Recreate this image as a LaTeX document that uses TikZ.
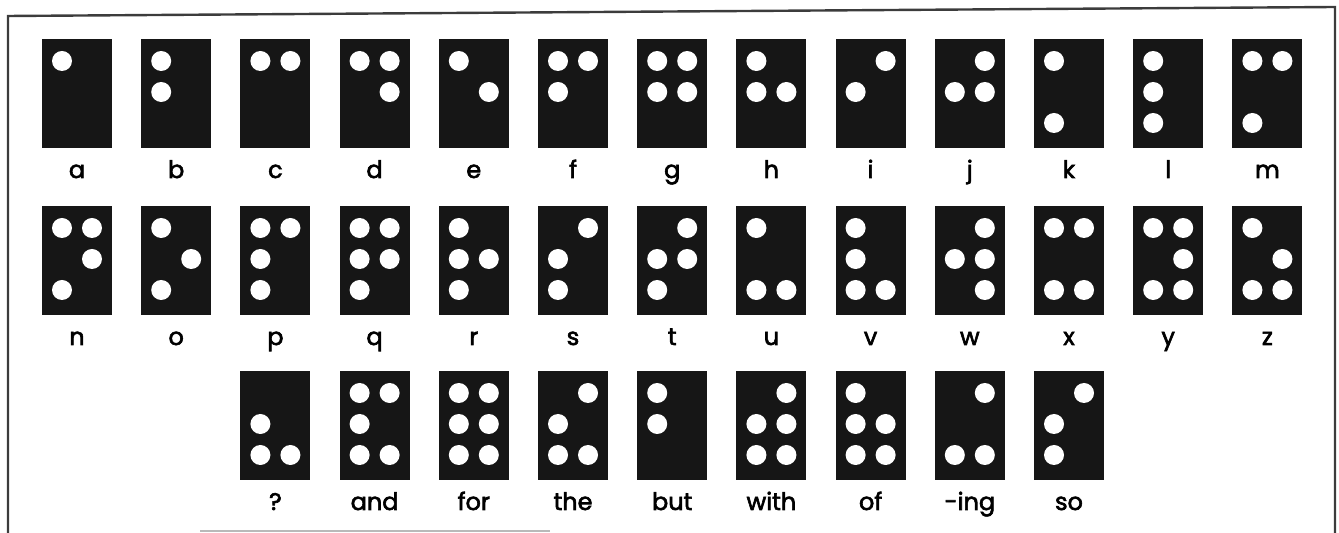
\documentclass[tikz,border=0pt]{standalone}
\usepackage{fontspec}
\setmainfont{Poppins}
\newfontfamily\labelfont{Poppins}[FakeBold=2.5]
\usetikzlibrary{positioning}
\definecolor{cellink}{HTML}{161616}
\definecolor{frameink}{HTML}{3C3C3C}
\tikzset{
  braillecell/.style={rectangle,fill=cellink,draw=none,minimum width=35pt,
    minimum height=54.5pt,inner sep=0pt,outer sep=0pt},
  brailledot/.style={fill=white},
  braillelabel/.style={anchor=base,inner sep=0pt,font=\labelfont\fontsize{12}{14}\selectfont},
  pageframe/.style={draw=frameink,line width=1.2pt},
}

\begin{document}
\begin{tikzpicture}[x=0.5pt,y=-0.5pt]
  \useasboundingbox (0,0) rectangle (1339,533);
  % frame of the scanned page
  \draw[pageframe] (8,533) -- (8,16) -- (1335,7) -- (1335,533);
  \draw[gray!55,line width=0.8pt] (200,531) -- (550,531);
  % cells: column/row/label/raised dots
  \foreach \c/\r/\txt/\pts [count=\n] in {
      0/0/a/{1}, 1/0/b/{1,2}, 2/0/c/{1,4}, 3/0/d/{1,4,5}, 4/0/e/{1,5},
      5/0/f/{1,2,4}, 6/0/g/{1,2,4,5}, 7/0/h/{1,2,5}, 8/0/i/{2,4},
      9/0/j/{2,4,5}, 10/0/k/{1,3}, 11/0/l/{1,2,3}, 12/0/m/{1,3,4},
      0/1/n/{1,3,4,5}, 1/1/o/{1,3,5}, 2/1/p/{1,2,3,4}, 3/1/q/{1,2,3,4,5},
      4/1/r/{1,2,3,5}, 5/1/s/{2,3,4}, 6/1/t/{2,3,4,5}, 7/1/u/{1,3,6},
      8/1/v/{1,2,3,6}, 9/1/w/{2,4,5,6}, 10/1/x/{1,3,4,6}, 11/1/y/{1,3,4,5,6},
      12/1/z/{1,3,5,6},
      2/2/?/{2,3,6}, 3/2/and/{1,2,3,4,6}, 4/2/for/{1,2,3,4,5,6},
      5/2/the/{2,3,4,6}, 6/2/but/{1,2}, 7/2/with/{2,3,4,5,6},
      8/2/of/{1,2,3,5,6}, 9/2/-ing/{3,4,6}, 10/2/so/{2,3,4}}
  {
    \pgfmathsetmacro{\cx}{77+99.2*\c}
    \pgfmathsetmacro{\cy}{{39,206,371}[\r]+54.5}
    \node[braillecell] (cell\n) at (\cx,\cy) {};
    \node[braillelabel] (lab\n) at ([yshift=-15pt]cell\n.south) {\txt};
    \foreach \d in \pts {
      \pgfmathsetmacro{\dx}{\d>3 ? 15 : -15}
      \pgfmathsetmacro{\dy}{22+31*mod(\d-1,3)}
      \fill[brailledot] (cell\n.north) ++(\dx,\dy) circle[radius=5pt];
    }
  }
\end{tikzpicture}
\end{document}
